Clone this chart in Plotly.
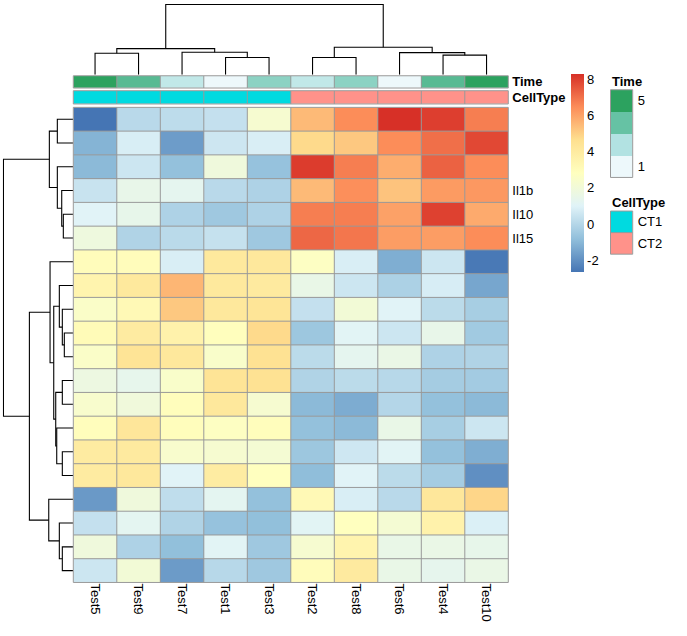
import plotly.graph_objects as go

W, H = 687, 636
FONT = "Liberation Sans, Arial, sans-serif"

# ---------------- data ----------------
col_labels = ["Test5", "Test9", "Test7", "Test1", "Test3",
              "Test2", "Test8", "Test6", "Test4", "Test10"]
row_labels = ["", "", "", "Il1b", "Il10", "Il15"] + [""] * 14
time_values = [5, 4, 2, 1, 3, 2, 3, 1, 4, 5]
cell_types = ["CT1", "CT1", "CT1", "CT1", "CT1", "CT2", "CT2", "CT2", "CT2", "CT2"]

values = [
    [-2.65, 0.10, 0.20, 0.35, 2.30, 5.50, 6.50, 8.33, 8.05, 6.80],
    [-1.10, 0.82, -1.68, 0.56, 0.85, 4.80, 5.20, 6.50, 7.10, 7.85],
    [-0.95, 0.55, -0.75, 1.90, -0.70, 8.10, 6.80, 5.80, 7.35, 6.50],
    [0.45, 1.50, 1.30, 0.10, -0.15, 5.50, 6.45, 5.30, 6.20, 6.25],
    [1.05, 1.45, -0.15, -0.50, -0.15, 6.80, 6.80, 6.05, 8.00, 5.85],
    [1.85, -0.10, 0.12, 0.38, -0.50, 7.25, 6.95, 6.15, 6.15, 6.50],
    [3.00, 3.00, 0.85, 4.15, 4.20, 2.70, 0.85, -1.25, 0.55, -2.55],
    [3.50, 4.15, 5.60, 4.15, 4.10, 1.55, 0.55, -0.20, 0.80, -1.45],
    [2.55, 3.20, 5.20, 4.20, 4.40, 0.35, 2.10, 1.05, 0.15, -0.30],
    [3.10, 4.00, 3.60, 2.90, 4.80, -0.55, 1.10, 0.55, 1.50, -0.45],
    [2.55, 4.45, 4.20, 2.50, 4.55, 0.15, 1.30, 1.60, -0.15, -0.10],
    [1.75, 1.40, 2.50, 4.45, 4.55, -0.10, 0.15, 0.05, -0.35, -0.40],
    [2.40, 1.95, 2.95, 4.20, 2.30, -0.95, -1.30, 0.00, -0.75, -0.95],
    [2.95, 4.30, 2.95, 2.75, 2.95, -0.75, -0.95, 1.55, -0.30, 0.55],
    [4.00, 4.10, 2.40, 2.30, 2.20, -0.55, 0.60, 1.10, -0.75, -1.25],
    [4.00, 4.20, 1.05, 3.95, 2.85, -0.85, 1.05, 0.15, -0.35, -2.00],
    [-1.75, 1.90, 0.25, 1.25, -0.75, 3.20, 0.85, 0.10, 4.25, 4.90],
    [0.35, 1.25, -0.10, -0.70, -0.80, 1.15, 2.85, 2.20, 3.60, 0.90],
    [1.90, -0.15, -0.80, 1.10, -0.50, 2.30, 3.50, 1.55, 1.60, 1.45],
    [0.55, 2.10, -1.70, 0.05, -0.50, 3.00, 4.10, 1.55, 1.35, 1.60],
]

# hierarchical merges: [left, right, height]; leaves are display positions,
# node n+k is the k-th merge
col_merges = [
    [0, 1, 21.7], [3, 4, 17.3], [2, 11, 22.7], [10, 12, 26.3],
    [5, 6, 17.3], [8, 9, 19.7], [7, 15, 22.3], [14, 16, 27.7],
    [13, 17, 70.7],
]
row_merges = [
    [0, 1, 16.0], [4, 5, 10.0], [3, 21, 11.6], [2, 22, 16.0], [20, 23, 24.0],
    [9, 10, 9.0], [8, 25, 11.0], [7, 26, 14.0], [11, 12, 11.0], [14, 15, 11.0],
    [13, 29, 16.6], [28, 30, 17.6], [27, 31, 19.6], [6, 32, 23.3],
    [18, 19, 11.0], [17, 34, 14.0], [16, 35, 24.6], [33, 36, 44.0],
    [24, 37, 70.0],
]

heat_palette = ["#4575B4", "#91BFDB", "#E0F3F8", "#FFFFBF", "#FEE090", "#FC8D59", "#D73027"]
time_legend_colors = ["#2CA25F", "#66C2A4", "#B2E2E2", "#EDF8FB"]   # top -> bottom
time_legend_labels = ["5", "", "", "1"]
cell_type_levels = ["CT1", "CT2"]
cell_type_colors = ["#00DAE0", "#FF928A"]
colorbar_ticks = [-2, 0, 2, 4, 6, 8]

# ---------------- helpers ----------------
def px_x(p):
    return p / W

def px_y(p):
    return 1 - p / H

def scale_from(colors):
    n = len(colors)
    return [[i / (n - 1), c] for i, c in enumerate(colors)]

def dendro(merges, n):
    pos = {i: float(i) for i in range(n)}
    hgt = {i: 0.0 for i in range(n)}
    ps, hs = [], []
    for k, (a, b, h) in enumerate(merges):
        node = n + k
        pos[node] = (pos[a] + pos[b]) / 2
        hgt[node] = h
        ps += [pos[a], pos[a], pos[b], pos[b], None]
        hs += [hgt[a], h, h, hgt[b], None]
    return ps, hs, max(m[2] for m in merges)

def grid_lines(nx, ny):
    xs, ys = [], []
    for i in range(1, nx):
        xs += [i - 0.5, i - 0.5, None]
        ys += [-0.5, ny - 0.5, None]
    for j in range(1, ny):
        xs += [-0.5, nx - 0.5, None]
        ys += [j - 0.5, j - 0.5, None]
    return xs, ys

nr, nc = len(values), len(col_labels)
GRID = "#999999"

# geometry (pixels)
HX0, HX1 = 73.3, 508.3
HY0, HY1 = 106.7, 583.3

fig = go.Figure()

# main heatmap
fig.add_trace(go.Heatmap(
    z=values, x=list(range(nc)), y=list(range(nr)),
    colorscale=scale_from(heat_palette),
    colorbar=dict(
        x=px_x(571), xanchor="left", y=px_y(73), yanchor="top",
        len=199 / H, lenmode="fraction", thickness=13, thicknessmode="pixels",
        outlinewidth=0, tickvals=colorbar_ticks,
        ticktext=[str(t) for t in colorbar_ticks], ticks="", xpad=0, ypad=0,
        tickfont=dict(size=13, color="black", family=FONT),
    ),
    xaxis="x", yaxis="y", hoverinfo="skip",
))
gx, gy = grid_lines(nc, nr)
fig.add_trace(go.Scatter(x=gx, y=gy, mode="lines", line=dict(color=GRID, width=1),
                         xaxis="x", yaxis="y", hoverinfo="skip", showlegend=False))

# annotation bars
tmin, tmax = min(time_values), max(time_values)
fig.add_trace(go.Heatmap(
    z=[time_values], x=list(range(nc)), y=[0],
    colorscale=scale_from(time_legend_colors[::-1]), zmin=tmin, zmax=tmax,
    showscale=False, xaxis="x", yaxis="y2", hoverinfo="skip",
))
ct_codes = [cell_type_levels.index(c) for c in cell_types]
fig.add_trace(go.Heatmap(
    z=[ct_codes], x=list(range(nc)), y=[0],
    colorscale=scale_from(cell_type_colors), zmin=0, zmax=len(cell_type_levels) - 1,
    showscale=False, xaxis="x", yaxis="y3", hoverinfo="skip",
))
ax_, ay_ = grid_lines(nc, 1)
for ya in ["y2", "y3"]:
    fig.add_trace(go.Scatter(x=ax_, y=ay_, mode="lines", line=dict(color=GRID, width=1),
                             xaxis="x", yaxis=ya, hoverinfo="skip", showlegend=False))

# column dendrogram
cp, ch, croot = dendro(col_merges, nc)
fig.add_trace(go.Scatter(x=cp, y=ch, mode="lines", line=dict(color="black", width=1.1),
                         xaxis="x", yaxis="y4", hoverinfo="skip", showlegend=False))
# row dendrogram
rp, rh, rroot = dendro(row_merges, nr)
fig.add_trace(go.Scatter(x=rh, y=rp, mode="lines", line=dict(color="black", width=1.1),
                         xaxis="x2", yaxis="y", hoverinfo="skip", showlegend=False))

# legend: Time
nt = len(time_legend_colors)
fig.add_trace(go.Heatmap(
    z=[[nt - i] for i in range(nt)], x=[0], y=list(range(nt)),
    colorscale=scale_from(time_legend_colors[::-1]), zmin=1, zmax=nt,
    showscale=False, xaxis="x3", yaxis="y5", hoverinfo="skip",
))
# legend: CellType
fig.add_trace(go.Heatmap(
    z=[[i] for i in range(len(cell_type_levels))], x=[0],
    y=list(range(len(cell_type_levels))),
    colorscale=scale_from(cell_type_colors), zmin=0, zmax=len(cell_type_levels) - 1,
    showscale=False, xaxis="x4", yaxis="y6", hoverinfo="skip",
))
lx, ly = grid_lines(1, len(cell_type_levels))
fig.add_trace(go.Scatter(x=lx, y=ly, mode="lines", line=dict(color=GRID, width=1),
                         xaxis="x4", yaxis="y6", hoverinfo="skip", showlegend=False))

tickfont = dict(size=13, color="black", family=FONT)
hidden = dict(visible=False, showgrid=False, zeroline=False)

LX0, LX1 = 610.5, 632.7
fig.update_layout(
    width=W, height=H,
    margin=dict(l=0, r=0, t=0, b=0),
    paper_bgcolor="white", plot_bgcolor="white",
    font=dict(family=FONT, size=13, color="black"),
    showlegend=False,
    xaxis=dict(domain=[px_x(HX0), px_x(HX1)], range=[-0.5, nc - 0.5], anchor="y",
               tickvals=list(range(nc)), ticktext=col_labels, tickangle=90,
               ticks="", showgrid=False, zeroline=False, tickfont=tickfont,
               showline=False),
    yaxis=dict(domain=[px_y(HY1), px_y(HY0)], range=[nr - 0.5, -0.5], anchor="x",
               side="right", tickvals=list(range(nr)), ticktext=row_labels,
               ticks="", showgrid=False, zeroline=False, tickfont=tickfont,
               ticklabelstandoff=3),
    yaxis2=dict(domain=[px_y(87.3), px_y(75)], range=[0.5, -0.5], anchor="x",
                side="right", tickvals=[0], ticktext=["<b>Time</b>"], ticks="",
                showgrid=False, zeroline=False, tickfont=tickfont, ticklabelstandoff=3),
    yaxis3=dict(domain=[px_y(103.3), px_y(90)], range=[0.5, -0.5], anchor="x",
                side="right", tickvals=[0], ticktext=["<b>CellType</b>"], ticks="",
                showgrid=False, zeroline=False, tickfont=tickfont, ticklabelstandoff=3),
    yaxis4=dict(domain=[px_y(74), px_y(2.6)], range=[0, croot * 1.012], anchor="x", **hidden),
    xaxis2=dict(domain=[px_x(2.6), px_x(HX0)], range=[rroot * 1.012, 0], anchor="y", **hidden),
    xaxis3=dict(domain=[px_x(LX0), px_x(LX1)], range=[-0.5, 0.5], anchor="y5",
                showticklabels=False, ticks="", showgrid=False, zeroline=False),
    yaxis5=dict(domain=[px_y(177), px_y(89)], range=[nt - 0.5, -0.5], anchor="x3",
                side="right", tickvals=list(range(nt)), ticktext=time_legend_labels,
                ticks="", showgrid=False, zeroline=False, tickfont=tickfont,
                ticklabelstandoff=4),
    xaxis4=dict(domain=[px_x(LX0), px_x(LX1)], range=[-0.5, 0.5], anchor="y6",
                showticklabels=False, ticks="", showgrid=False, zeroline=False),
    yaxis6=dict(domain=[px_y(254), px_y(210.7)], range=[len(cell_type_levels) - 0.5, -0.5],
                anchor="x4", side="right", tickvals=list(range(len(cell_type_levels))),
                ticktext=cell_type_levels, ticks="", showgrid=False, zeroline=False,
                tickfont=tickfont, ticklabelstandoff=4),
)

# outer borders (grey frames)
for xr, yr in [("x", "y"), ("x", "y2"), ("x", "y3"), ("x3", "y5"), ("x4", "y6")]:
    fig.add_shape(type="rect", xref=f"{xr} domain", yref=f"{yr} domain",
                  x0=0, x1=1, y0=0, y1=1, line=dict(color=GRID, width=1),
                  fillcolor="rgba(0,0,0,0)", layer="above")

# legend titles
for text, ypx in [("Time", 80.7), ("CellType", 201.7)]:
    fig.add_annotation(text=f"<b>{text}</b>", x=px_x(609.5), y=px_y(ypx),
                       xref="paper", yref="paper", xanchor="left", yanchor="middle",
                       showarrow=False, font=dict(size=13, color="black", family=FONT))

fig.write_html("out.html", config={"displayModeBar": False},
               post_script="document.body.style.margin='0';")
